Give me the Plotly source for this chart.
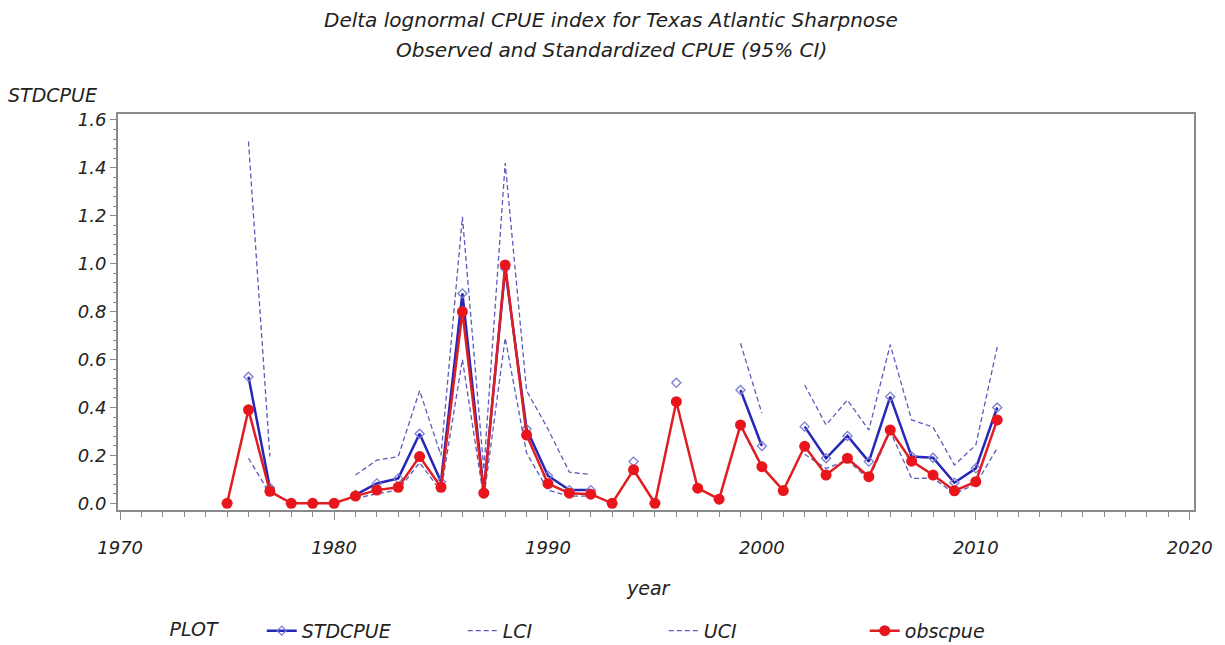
import plotly.graph_objects as go

years = list(range(1975, 2012))

obscpue = [0.0, 0.39, 0.05, 0.0, 0.0, 0.0, 0.03, 0.055, 0.067, 0.195,
           0.067, 0.80, 0.042, 0.995, 0.285, 0.082, 0.042, 0.038, 0.0, 0.14,
           0.0, 0.424, 0.063, 0.017, 0.327, 0.153, 0.053, 0.238, 0.118, 0.188,
           0.111, 0.306, 0.176, 0.118, 0.052, 0.09, 0.348]

stdcpue = [None, 0.528, 0.065, None, None, None, 0.035, 0.083, 0.104, 0.29,
           0.09, 0.876, 0.05, 0.98, 0.31, 0.115, 0.055, 0.055, None, 0.174,
           None, 0.503, None, None, 0.473, 0.239, None, 0.32, 0.188, 0.281,
           0.174, 0.445, 0.195, 0.19, 0.086, 0.146, 0.40]

lci = [None, 0.188, 0.04, None, None, None, 0.02, 0.04, 0.055, 0.17,
       0.05, 0.60, 0.02, 0.69, 0.21, 0.055, 0.03, 0.03, None, None,
       None, None, None, None, 0.32, 0.15, None, 0.205, 0.145, 0.18,
       0.10, 0.30, 0.104, 0.105, 0.04, 0.08, 0.23]

uci = [None, 1.51, 0.195, None, None, None, 0.118, 0.18, 0.195, 0.47,
       0.20, 1.196, 0.14, 1.42, 0.47, 0.31, 0.13, 0.12, None, None,
       None, None, None, None, 0.668, 0.376, None, 0.494, 0.327, 0.431,
       0.306, 0.662, 0.348, 0.318, 0.16, 0.243, 0.652]

x_ticks = [1970, 1980, 1990, 2000, 2010, 2020]
y_ticks = [0.0, 0.2, 0.4, 0.6, 0.8, 1.0, 1.2, 1.4, 1.6]

FONT = "DejaVu Sans"
AXIS_COLOR = "#8a8a8a"
TXT = 19

fig = go.Figure()

fig.add_trace(go.Scatter(
    x=years, y=stdcpue, name="STDCPUE", mode="lines+markers",
    connectgaps=False,
    line=dict(color="#2626b8", width=2.5),
    marker=dict(symbol="diamond-open", size=7, color="#7c7cd0",
                line=dict(width=1.3, color="#7c7cd0")),
))
fig.add_trace(go.Scatter(
    x=years, y=lci, name="LCI", mode="lines", connectgaps=False,
    line=dict(color="#5c5cba", width=1.3, dash="5px,3px"),
))
fig.add_trace(go.Scatter(
    x=years, y=uci, name="UCI", mode="lines", connectgaps=False,
    line=dict(color="#5c5cba", width=1.3, dash="5px,3px"),
))
fig.add_trace(go.Scatter(
    x=years, y=obscpue, name="obscpue", mode="lines+markers",
    line=dict(color="#e01e22", width=2.5),
    marker=dict(symbol="circle", size=11, color="#e8161c"),
))

fig.update_layout(
    width=1225, height=645,
    margin=dict(l=118, r=31, t=114, b=135, autoexpand=False),
    paper_bgcolor="white", plot_bgcolor="white",
    font=dict(family=FONT, size=TXT, color="#222222", style="italic"),
    showlegend=True,
    legend=dict(
        orientation="h", x=0.046, y=-0.305, xanchor="left", yanchor="middle",
        title=dict(text="PLOT" + "\u00a0" * 6, side="left",
                   font=dict(family=FONT, size=TXT, style="italic")),
        font=dict(family=FONT, size=TXT, style="italic"),
        entrywidth=156, entrywidthmode="pixels",
        bgcolor="rgba(0,0,0,0)",
    ),
    xaxis=dict(
        range=[1969.9, 2020.2],
        tickvals=x_ticks, ticktext=[str(v) for v in x_ticks],
        ticks="outside", ticklen=8, tickwidth=1, tickcolor=AXIS_COLOR,
        minor=dict(dtick=1, ticks="outside", ticklen=5, tickcolor=AXIS_COLOR,
                   showgrid=False),
        showgrid=False, zeroline=False,
        showline=True, linecolor=AXIS_COLOR, linewidth=2, mirror=True,
        ticklabelstandoff=12,
        tickfont=dict(family=FONT, size=18, style="italic"),
    ),
    yaxis=dict(
        range=[-0.028, 1.625],
        tickvals=y_ticks, ticktext=[f"{v:.1f}" for v in y_ticks],
        ticks="outside", ticklen=6, tickwidth=1, tickcolor=AXIS_COLOR,
        minor=dict(dtick=0.04, tick0=0, ticks="outside", ticklen=3,
                   tickcolor=AXIS_COLOR, showgrid=False),
        showgrid=False, zeroline=False,
        showline=True, linecolor=AXIS_COLOR, linewidth=2, mirror=True,
        tickfont=dict(family=FONT, size=18, style="italic"),
    ),
    annotations=[
        dict(text="Delta lognormal CPUE index for Texas Atlantic Sharpnose",
             xref="paper", yref="paper", x=(611 - 118) / 1076,
             y=(510 - 20) / 396, xanchor="center", yanchor="middle",
             showarrow=False, font=dict(family=FONT, size=TXT + 1, style="italic")),
        dict(text="Observed and Standardized CPUE (95% CI)",
             xref="paper", yref="paper", x=(611 - 118) / 1076,
             y=(510 - 50) / 396, xanchor="center", yanchor="middle",
             showarrow=False, font=dict(family=FONT, size=TXT + 1, style="italic")),
        dict(text="STDCPUE", xref="paper", yref="paper",
             x=(6 - 118) / 1076, y=(510 - 95) / 396,
             xanchor="left", yanchor="middle", showarrow=False,
             font=dict(family=FONT, size=TXT, style="italic")),
        dict(text="year", xref="paper", yref="paper",
             x=(648 - 118) / 1076, y=(510 - 588) / 396,
             xanchor="center", yanchor="middle", showarrow=False,
             font=dict(family=FONT, size=TXT, style="italic")),
    ],
)

fig.write_html("out.html")
